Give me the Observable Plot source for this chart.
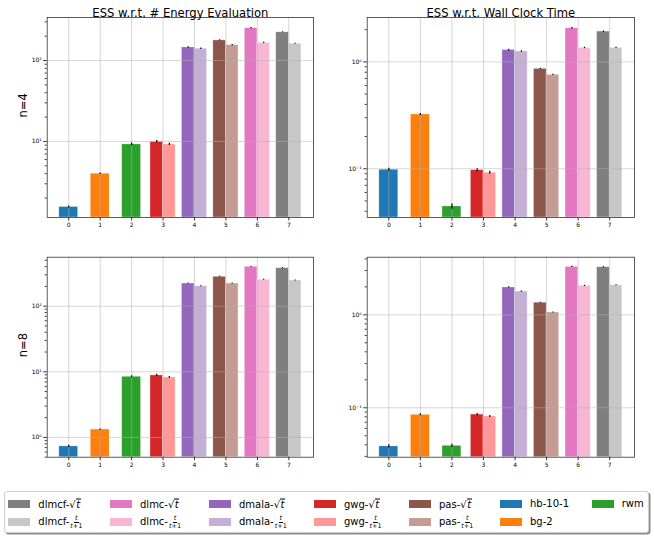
<!DOCTYPE html>
<html><head><meta charset="utf-8">
<script src="https://cdn.jsdelivr.net/npm/d3@7"></script>
<script src="https://cdn.jsdelivr.net/npm/@observablehq/plot@0.6"></script>
<style>
body{margin:0;background:#fff;font-family:"DejaVu Sans",sans-serif;}
#root{position:relative;width:654px;height:539px;overflow:hidden;}
.panel{position:absolute;}
.panel svg{overflow:visible;font-family:"DejaVu Sans",sans-serif;}
#legend{position:absolute;left:4px;top:491px;width:645px;height:42px;border:1px solid #d0d0d0;border-radius:3px;box-shadow:1.5px 1.5px 0 rgba(0,0,0,0.45);background:#fff;box-sizing:border-box;}
.sw{position:absolute;width:22px;height:7.5px;}
.lb{position:absolute;font-size:10px;line-height:1;white-space:nowrap;display:flex;align-items:center;transform:translateY(-50%);color:#000;}
.it{font-style:italic;}
.sq{font-style:italic;border-top:0.8px solid #000;padding:0 0.5px;line-height:1;}
.frac{display:inline-flex;flex-direction:column;align-items:center;font-size:6.5px;line-height:1;margin-left:1px;}
.frac .num{font-style:italic;border-bottom:0.6px solid #000;padding:0 1px;}
.frac .den{font-style:normal;}
</style></head><body><div id="root"><div id="legend"></div></div>
<script>
// ---- data ----
const methodBase = ["hb-10-1","bg-2","rwm","gwg","gwg","dmala","dmala","pas","pas","dlmc","dlmc","dlmcf","dlmcf"];
const methodSched = [null,null,null,"sqrt","frac","sqrt","frac","sqrt","frac","sqrt","frac","sqrt","frac"];
const groupIndex = [0,1,2,3,3,4,4,5,5,6,6,7,7];
const colors = ["#1f77b4","#ff7f0e","#2ca02c","#d62728","#ff9896","#9467bd","#c5b0d5","#8c564b","#c49c94","#e377c2","#f7b6d2","#7f7f7f","#c7c7c7"];
const xTicks = [0,1,2,3,4,5,6,7];

const energyN4 = [1.55, 4.0, 9.2, 9.9, 9.2, 145, 140, 177, 155, 251, 165, 223, 161];
const energyN4Err = [0.04, 0.08, 0.35, 0.35, 0.3, 3, 3, 3, 2.5, 4, 3, 3, 2.5];
const wallN4 = [0.098, 0.322, 0.0444, 0.097, 0.0918, 1.29, 1.25, 0.86, 0.756, 2.06, 1.35, 1.92, 1.35];
const wallN4Err = [0.003, 0.007, 0.0025, 0.003, 0.003, 0.025, 0.02, 0.012, 0.01, 0.035, 0.02, 0.03, 0.02];
const energyN8 = [0.73, 1.32, 8.4, 8.8, 8.2, 221, 201, 280, 221, 398, 252, 379, 246];
const energyN8Err = [0.03, 0.03, 0.3, 0.35, 0.25, 4, 3.5, 5, 4, 7, 4, 7, 4];
const wallN8 = [0.0384, 0.084, 0.039, 0.0845, 0.0806, 1.97, 1.78, 1.35, 1.06, 3.28, 2.05, 3.25, 2.08];
const wallN8Err = [0.0015, 0.002, 0.0015, 0.0025, 0.0022, 0.03, 0.025, 0.02, 0.015, 0.05, 0.03, 0.05, 0.03];

const titles = ["ESS w.r.t. # Energy Evaluation", "ESS w.r.t. Wall Clock Time"];
const rowLabels = ["n=4", "n=8"];

// ---- helpers ----
const supMap = {"-":"⁻","0":"⁰","1":"¹","2":"²","3":"³","4":"⁴"};
const fmtPow = d => "10" + String(Math.round(Math.log10(d))).split("").map(c => supMap[c]).join("");
const xDomain = [-0.685, 7.785];

function barSpan(i){
  const g = groupIndex[i], s = methodSched[i];
  if (s === null) return [g - 0.3, g + 0.3];
  if (s === "sqrt") return [g - 0.4, g];
  return [g, g + 0.4];
}

function panel({values, errs, domain, title, ylabel, left, top, ml, mr, mt, mb}){
  const data = values.map((v, i) => {
    const [x1, x2] = barSpan(i);
    return {x1, x2, xc: (x1 + x2) / 2, v, e: errs[i], color: colors[i]};
  });
  const kmin = Math.floor(Math.log10(domain[0])), kmax = Math.ceil(Math.log10(domain[1]));
  const majors = [], minors = [];
  for (let k = kmin; k <= kmax; k++) {
    const b = Math.pow(10, k);
    if (b >= domain[0] && b <= domain[1]) majors.push(b);
    for (let m = 2; m <= 9; m++) { const t = m * b; if (t >= domain[0] && t <= domain[1]) minors.push(t); }
  }
  const marks = [
    Plot.rect(data, {x1: "x1", x2: "x2", y1: domain[0], y2: "v", fill: "color", stroke: "white", strokeOpacity: 0.5, strokeWidth: 0.6}),
    Plot.gridX(xTicks, {stroke: "#b0b0b0", strokeOpacity: 0.65, strokeWidth: 0.8}),
    Plot.gridY(majors, {stroke: "#b0b0b0", strokeOpacity: 0.65, strokeWidth: 0.8}),
    Plot.ruleX(data, {x: "xc", y1: d => d.v - d.e, y2: d => d.v + d.e, stroke: "black", strokeWidth: 1.2}),
    Plot.frame({stroke: "#333", strokeWidth: 0.8}),
    Plot.axisX(xTicks, {tickSize: 3.5, tickPadding: 2, fontSize: 6, label: null, stroke: "#333"}),
    Plot.axisY(majors, {tickSize: 3.5, tickPadding: 2, fontSize: 6, tickFormat: fmtPow, label: null, stroke: "#333"}),
    Plot.axisY(minors, {tickSize: 2, tickFormat: () => "", label: null, stroke: "#333"})
  ];
  if (title) marks.push(Plot.text([title], {frameAnchor: "top", dy: -9, fontSize: 11.6, fill: "black"}));
  if (ylabel) marks.push(Plot.text([ylabel], {frameAnchor: "left", dx: -24, rotate: -90, fontSize: 11.5, fill: "black"}));
  const svg = Plot.plot({
    width: 327, height: 240,
    marginLeft: ml, marginRight: mr, marginTop: mt, marginBottom: mb,
    x: {type: "linear", domain: xDomain, axis: null},
    y: {type: "log", domain, axis: null},
    color: {type: "identity"},
    style: {fontFamily: "DejaVu Sans, sans-serif", background: "transparent"},
    marks
  });
  const div = document.createElement("div");
  div.className = "panel";
  div.style.left = left + "px";
  div.style.top = top + "px";
  div.appendChild(svg);
  document.getElementById("root").appendChild(div);
}

panel({values: energyN4, errs: energyN4Err, domain: [1.15, 340], title: titles[0], ylabel: rowLabels[0], left: 0, top: 0, ml: 46.7, mr: 14, mt: 17, mb: 23});
panel({values: wallN4, errs: wallN4Err, domain: [0.035, 2.6], title: titles[1], ylabel: null, left: 327, top: 0, ml: 39.7, mr: 20, mt: 17, mb: 23});
panel({values: energyN8, errs: energyN8Err, domain: [0.5, 557], title: null, ylabel: rowLabels[1], left: 0, top: 240, ml: 46.7, mr: 14, mt: 16.7, mb: 23.3});
panel({values: wallN8, errs: wallN8Err, domain: [0.0294, 4.17], title: null, ylabel: null, left: 327, top: 240, ml: 39.7, mr: 20, mt: 16.7, mb: 23.3});

// ---- legend ----
const legendOrder = [[11,12],[9,10],[5,6],[3,4],[7,8],[0,1],[2]];
const legendColX = [8.3, 110, 209, 314, 409, 500, 591.7];
const rowY = [504, 522];
function labelHTML(i){
  const base = methodBase[i], s = methodSched[i];
  if (s === "sqrt") return base + "-√<span class='sq'>t</span>";
  if (s === "frac") return base + "-<span class='frac'><span class='num'>t</span><span class='den'><i>t</i>+1</span></span>";
  return base;
}
const root = document.getElementById("root");
legendOrder.forEach((col, c) => {
  col.forEach((i, r) => {
    const sw = document.createElement("div");
    sw.className = "sw";
    sw.style.left = legendColX[c] + "px";
    sw.style.top = (rowY[r] - 3.75) + "px";
    sw.style.background = colors[i];
    root.appendChild(sw);
    const lb = document.createElement("div");
    lb.className = "lb";
    lb.style.left = (legendColX[c] + 30) + "px";
    lb.style.top = rowY[r] + "px";
    lb.innerHTML = labelHTML(i);
    root.appendChild(lb);
  });
});
</script></body></html>
